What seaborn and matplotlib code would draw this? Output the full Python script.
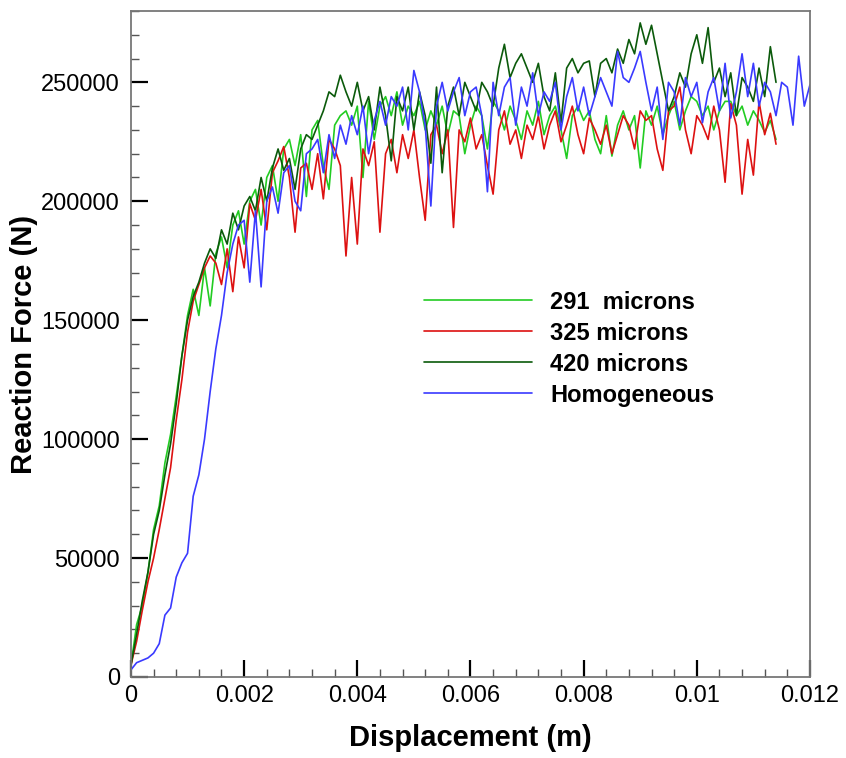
import pandas as pd
import seaborn as sns
import matplotlib.pyplot as plt
from matplotlib.ticker import MultipleLocator, FuncFormatter

# displacement samples in mm (converted to m below)
disp_mm = [0.0, 0.1, 0.2, 0.3, 0.4, 0.5, 0.6, 0.7, 0.8, 0.9,
           1.0, 1.1, 1.2, 1.3, 1.4, 1.5, 1.6, 1.7, 1.8, 1.9,
           2.0, 2.1, 2.2, 2.3, 2.4, 2.5, 2.6, 2.7, 2.8, 2.9,
           3.0, 3.1, 3.2, 3.3, 3.4, 3.5, 3.6, 3.7, 3.8, 3.9,
           4.0, 4.1, 4.2, 4.3, 4.4, 4.5, 4.6, 4.7, 4.8, 4.9,
           5.0, 5.1, 5.2, 5.3, 5.4, 5.5, 5.6, 5.7, 5.8, 5.9,
           6.0, 6.1, 6.2, 6.3, 6.4, 6.5, 6.6, 6.7, 6.8, 6.9,
           7.0, 7.1, 7.2, 7.3, 7.4, 7.5, 7.6, 7.7, 7.8, 7.9,
           8.0, 8.1, 8.2, 8.3, 8.4, 8.5, 8.6, 8.7, 8.8, 8.9,
           9.0, 9.1, 9.2, 9.3, 9.4, 9.5, 9.6, 9.7, 9.8, 9.9,
           10.0, 10.1, 10.2, 10.3, 10.4, 10.5, 10.6, 10.7, 10.8, 10.9,
           11.0, 11.1, 11.2, 11.3, 11.4, 11.5, 11.6, 11.7, 11.8, 11.9,
           12.0]

# reaction force in kN
force_291_kN = [5, 22, 30, 44, 62, 72, 90, 102, 118, 135,
                152, 163, 152, 172, 156, 178, 185, 172, 190, 196,
                182, 200, 205, 190, 210, 215, 200, 222, 226, 215,
                228, 202, 230, 234, 215, 205, 232, 236, 238, 232,
                240, 210, 242, 226, 240, 244, 236, 246, 232, 240,
                236, 242, 230, 238, 232, 240, 228, 238, 236, 220,
                232, 240, 236, 222, 242, 238, 230, 240, 234, 226,
                238, 232, 242, 228, 236, 240, 230, 218, 236, 240,
                234, 238, 226, 220, 236, 219, 232, 238, 230, 236,
                214, 238, 232, 240, 228, 236, 242, 230, 238, 244,
                242, 236, 240, 230, 238, 242, 242, 236, 240, 232,
                238, 234, 229, 234, 226]

force_325_kN = [5, 15, 28, 40, 50, 62, 75, 88, 108, 125,
                145, 158, 165, 172, 177, 174, 165, 180, 162, 185,
                172, 199, 192, 205, 188, 212, 217, 223, 210, 187,
                214, 216, 205, 220, 201, 226, 222, 215, 177, 210,
                182, 222, 215, 225, 187, 220, 226, 212, 228, 218,
                230, 210, 192, 228, 232, 220, 230, 189, 230, 225,
                235, 222, 228, 215, 203, 230, 238, 224, 230, 218,
                232, 226, 236, 222, 232, 238, 225, 232, 240, 228,
                220, 235, 230, 224, 232, 220, 228, 236, 232, 222,
                238, 234, 236, 222, 213, 238, 240, 248, 230, 220,
                236, 232, 226, 240, 230, 208, 241, 232, 203, 226,
                211, 242, 228, 237, 224]

force_420_kN = [5, 18, 32, 44, 60, 70, 85, 98, 115, 135,
                150, 160, 166, 174, 180, 176, 188, 182, 195, 188,
                198, 202, 196, 210, 200, 214, 222, 213, 218, 205,
                222, 228, 226, 232, 238, 246, 244, 253, 246, 240,
                250, 238, 244, 230, 248, 236, 217, 244, 238, 248,
                230, 246, 236, 216, 248, 212, 240, 248, 236, 250,
                244, 238, 250, 246, 240, 256, 266, 252, 258, 262,
                256, 250, 258, 244, 238, 254, 233, 256, 260, 254,
                258, 259, 244, 258, 260, 254, 264, 258, 268, 262,
                275, 266, 274, 262, 250, 238, 244, 254, 248, 262,
                270, 258, 273, 250, 256, 244, 254, 236, 252, 248,
                242, 256, 244, 265, 250]

force_homog_kN = [3, 6, 7, 8, 10, 14, 26, 29, 42, 48,
                  52, 76, 85, 100, 120, 138, 152, 170, 182, 190,
                  192, 166, 196, 164, 200, 206, 195, 212, 215, 200,
                  196, 220, 222, 226, 212, 228, 218, 232, 224, 236,
                  228, 240, 220, 234, 242, 232, 244, 240, 248, 230,
                  255, 246, 232, 198, 240, 250, 238, 246, 252, 236,
                  246, 248, 236, 204, 250, 236, 248, 252, 232, 248,
                  240, 254, 236, 246, 242, 250, 230, 244, 252, 238,
                  248, 236, 244, 252, 246, 240, 263, 252, 250, 256,
                  263, 250, 238, 248, 226, 250, 246, 232, 252, 244,
                  250, 233, 246, 252, 238, 258, 235, 246, 262, 244,
                  258, 240, 250, 246, 236, 250, 248, 232, 261, 240,
                  249]

labels = ["291  microns", "325 microns", "420 microns", "Homogeneous"]
colors = ["#22cc22", "#dd1111", "#0b5a0b", "#3a3aff"]

rows = []
for name, vals in zip(labels, [force_291_kN, force_325_kN, force_420_kN, force_homog_kN]):
    for d, f in zip(disp_mm, vals):
        rows.append({"Displacement (m)": d / 1000, "Reaction Force (N)": f * 1000, "Case": name})
df = pd.DataFrame(rows)

sns.set_style("ticks")
plt.rcParams['font.family'] = ['Liberation Sans', 'DejaVu Sans']
plt.rcParams['text.color'] = 'black'
plt.rcParams['axes.labelcolor'] = 'black'
plt.rcParams['xtick.color'] = 'black'
plt.rcParams['ytick.color'] = 'black'

fig = plt.figure(figsize=(8.46, 7.58), dpi=100)
ax = fig.add_axes([0.1548, 0.1069, 0.8026, 0.8786])
sns.lineplot(data=df, x="Displacement (m)", y="Reaction Force (N)", hue="Case",
             hue_order=labels, palette=dict(zip(labels, colors)),
             estimator=None, sort=False, linewidth=1.2, ax=ax)

ax.set_xlim(0, 0.012)
ax.set_ylim(0, 280000)
ax.xaxis.set_major_locator(MultipleLocator(0.002))
ax.xaxis.set_minor_locator(MultipleLocator(0.0004))
ax.yaxis.set_major_locator(MultipleLocator(50000))
ax.yaxis.set_minor_locator(MultipleLocator(10000))
ax.xaxis.set_major_formatter(FuncFormatter(lambda v, p: "%g" % round(v, 6)))
ax.yaxis.set_major_formatter(FuncFormatter(lambda v, p: "%d" % v))

ax.tick_params(which='major', direction='in', length=12, width=1.6, color='black',
               labelsize=17, labelcolor='black', pad=6)
ax.tick_params(axis='y', which='major', pad=8)
ax.tick_params(which='minor', direction='in', length=6, width=1.0, color='#555555')
for s in ax.spines.values():
    s.set_color('#777777')
    s.set_linewidth(1.3)

ax.set_xlabel("Displacement (m)", fontsize=21, fontweight='bold', labelpad=12, color='black')
ax.set_ylabel("Reaction Force (N)", fontsize=21, fontweight='bold', labelpad=2, color='black')

leg = ax.legend(frameon=False, loc='upper left', bbox_to_anchor=(0.40, 0.612),
                prop={'weight': 'bold', 'size': 17}, handlelength=4.6,
                handletextpad=0.75, labelspacing=0.34)
for t in leg.get_texts():
    t.set_color('black')

fig.savefig("out.png", dpi=100)
